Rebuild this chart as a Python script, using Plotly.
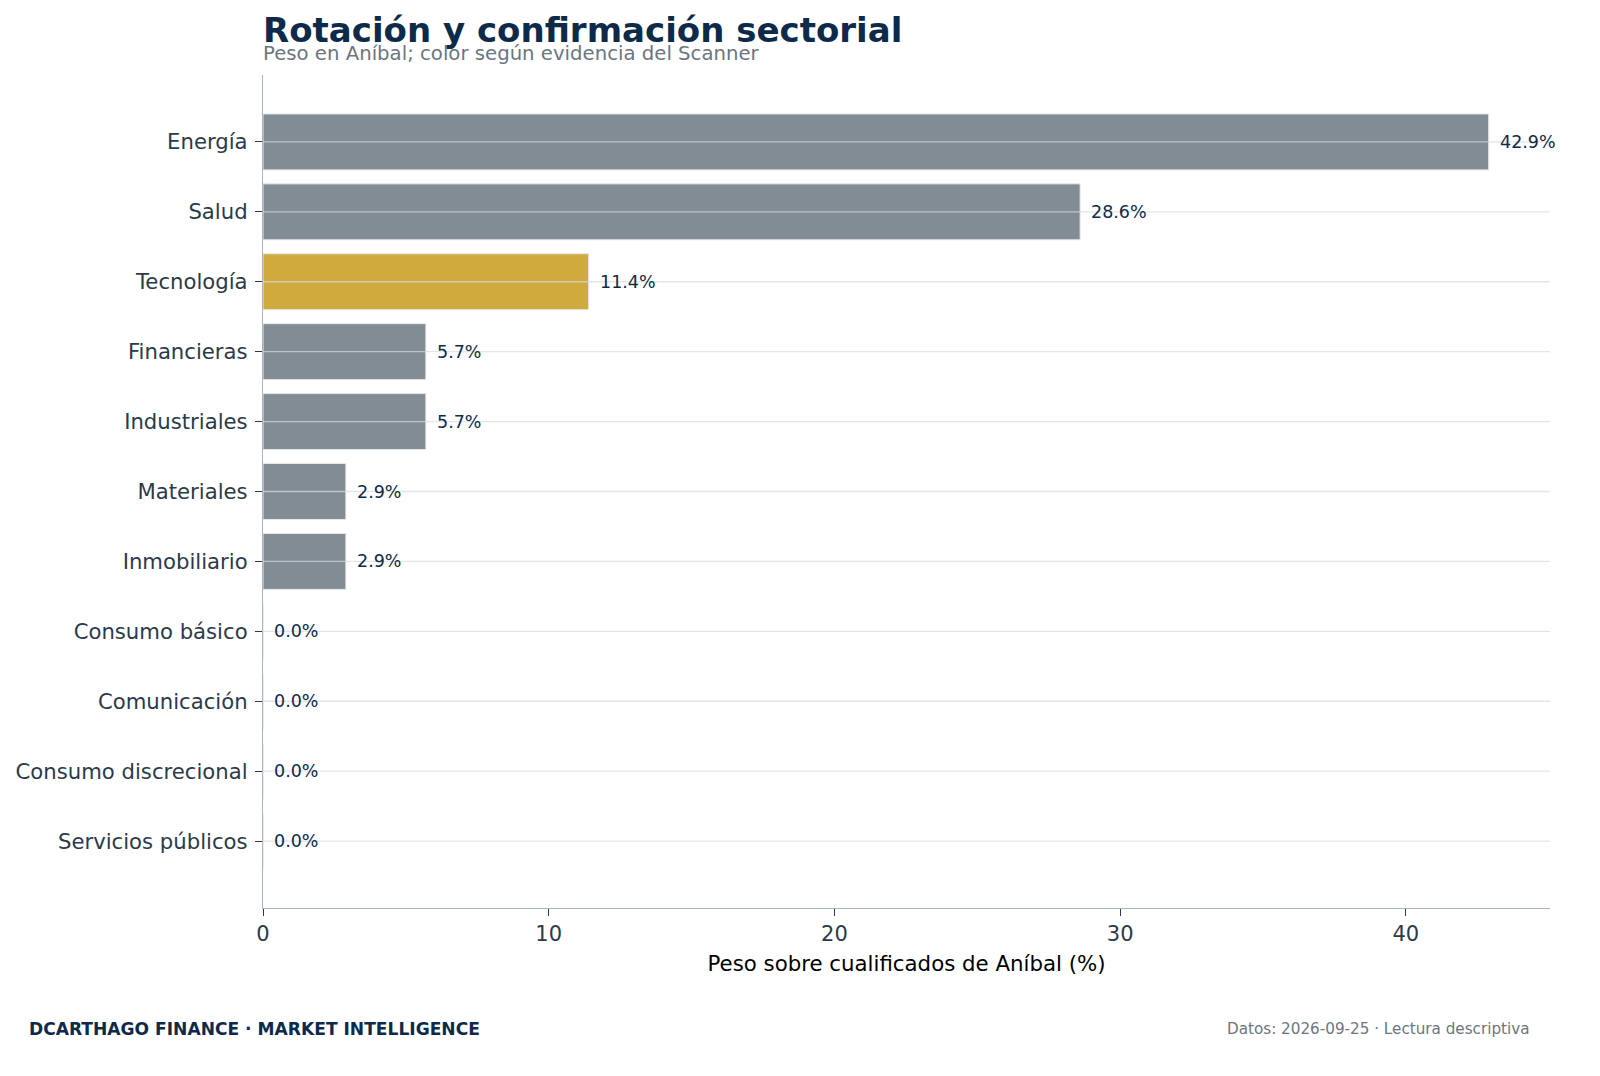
import plotly.graph_objects as go

categories = ["Energía", "Salud", "Tecnología", "Financieras", "Industriales", "Materiales",
              "Inmobiliario", "Consumo básico", "Comunicación", "Consumo discrecional", "Servicios públicos"]
values = [42.9, 28.6, 11.4, 5.7, 5.7, 2.9, 2.9, 0.0, 0.0, 0.0, 0.0]
confirmed = [False, False, True, False, False, False, False, False, False, False, False]
x_ticks = [0, 10, 20, 30, 40]

title = "Rotación y confirmación sectorial"
subtitle = "Peso en Aníbal; color según evidencia del Scanner"
x_title = "Peso sobre cualificados de Aníbal (%)"
footer_left = "DCARTHAGO FINANCE · MARKET INTELLIGENCE"
footer_right = "Datos: 2026-09-25 · Lectura descriptiva"

GRAY = "#828c95"
GOLD = "#cfaa3c"
NAVY = "#0d2a4a"
TICK = "#2b3a4a"
FONT = "DejaVu Sans"

W, H = 1600, 1076
ML, MR, MT, MB = 263, 50, 75, 168
PW, PH = W - ML - MR, H - MT - MB


def px_x(px):
    return (px - ML) / PW


def px_y(py):
    return (H - MB - py) / PH


colors = [GOLD if c else GRAY for c in confirmed]

fig = go.Figure()
fig.add_trace(go.Bar(
    x=values, y=categories, orientation="h",
    marker=dict(color=colors, line=dict(color="#e6e9ec", width=1)),
    width=0.8, hoverinfo="skip", showlegend=False,
))

# horizontal grid lines drawn above the bars
for cat in categories:
    fig.add_shape(type="line", xref="paper", x0=0, x1=1, yref="y", y0=cat, y1=cat,
                  line=dict(color="rgba(214,219,225,0.7)", width=1.3), layer="above")

for cat, v in zip(categories, values):
    fig.add_annotation(x=v, y=cat, text=f"{v:.1f}%", showarrow=False,
                       xanchor="left", yanchor="middle", xshift=9,
                       font=dict(family=FONT, size=17.5, color=NAVY))

n = len(categories)
fig.update_layout(
    width=W, height=H,
    margin=dict(l=ML, r=MR, t=MT, b=MB),
    paper_bgcolor="white", plot_bgcolor="white",
    font=dict(family=FONT, color=TICK),
    bargap=0.2,
)
fig.update_xaxes(
    range=[0, max(values) * 1.05],
    tickvals=x_ticks, ticktext=[str(t) for t in x_ticks],
    showgrid=False, zeroline=False,
    showline=True, linecolor="#aab4c0", linewidth=1.3,
    ticks="outside", ticklen=7, tickcolor=TICK, tickwidth=1.2,
    tickfont=dict(family=FONT, size=21, color=TICK),
    title=dict(text=x_title, font=dict(family=FONT, size=21.3, color="black"), standoff=10),
)
fig.update_yaxes(
    categoryorder="array", categoryarray=categories,
    range=[n - 1 + 0.957, -0.957],
    showgrid=False,
    zeroline=False, showline=True, linecolor="#aab4c0", linewidth=1.3,
    ticks="outside", ticklen=7, tickcolor=TICK, tickwidth=1.2,
    tickfont=dict(family=FONT, size=21.2, color=TICK),
    ticklabelstandoff=3,
)

fig.add_annotation(xref="paper", yref="paper", x=0, y=px_y(30), text=f"<b>{title}</b>",
                   showarrow=False, xanchor="left", yanchor="middle", xshift=-2,
                   font=dict(family=FONT, size=34, color=NAVY))
fig.add_annotation(xref="paper", yref="paper", x=0, y=px_y(53), text=subtitle,
                   showarrow=False, xanchor="left", yanchor="middle", xshift=-2,
                   font=dict(family=FONT, size=19.7, color="#6c7680"))
fig.add_annotation(xref="paper", yref="paper", x=px_x(27), y=px_y(1029), text=f"<b>{footer_left}</b>",
                   showarrow=False, xanchor="left", yanchor="middle",
                   font=dict(family=FONT, size=17.1, color=NAVY))
fig.add_annotation(xref="paper", yref="paper", x=px_x(1532), y=px_y(1029), text=footer_right,
                   showarrow=False, xanchor="right", yanchor="middle",
                   font=dict(family=FONT, size=15.2, color="#6c7680"))

fig.write_html("out.html", config={"displayModeBar": False},
               post_script="document.body.style.margin='0';document.body.style.overflow='hidden';")
